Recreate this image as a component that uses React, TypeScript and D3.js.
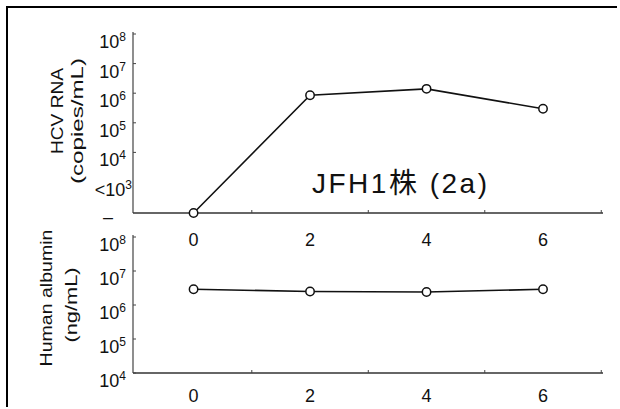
import React, { useEffect, useRef } from 'react';
import * as d3 from 'd3';

// days after infection
const days = [0, 2, 4, 6];
// HCV RNA copies/mL, null = below detection limit
const hcvRna = [null, 8.5e5, 1.4e6, 3.0e5];
// human albumin ng/mL
const albumin = [2.9e6, 2.5e6, 2.4e6, 2.9e6];

const xTickLabels = [0, 2, 4, 6];
const xMinorTicks = [1, 3, 5, 7];
const hcvExponents = [4, 5, 6, 7, 8];
const albuminExponents = [4, 5, 6, 7, 8];
const strainLabel = 'JFH1株 (2a)';

const FONT = '"Liberation Sans", Arial, "Noto Sans CJK JP", sans-serif';

const App = () => {
  const svgRef = useRef<SVGSVGElement>(null);

  useEffect(() => {
    if (!svgRef.current) return;
    const svg = d3.select(svgRef.current);
    svg.selectAll('*').remove();

    const x = d3.scaleLinear().domain([-1.04, 7.03]).range([133, 603]);

    // frame (left + top edges survive in the scan)
    svg.append('line').attr('x1', 7).attr('x2', 7).attr('y1', 6).attr('y2', 407)
      .attr('stroke', '#000').attr('stroke-width', 2);
    svg.append('line').attr('x1', 6).attr('x2', 617).attr('y1', 7).attr('y2', 7)
      .attr('stroke', '#000').attr('stroke-width', 2);

    // draws one panel: axes, ticks, labels
    const drawPanel = (
      y: d3.ScaleLogarithmic<number, number>,
      exps: number[],
      baseY: number,
      xLabelY: number
    ) => {
      const g = svg.append('g');
      const topY = y(1e8);

      g.append('line').attr('x1', x(-1.04)).attr('x2', x(-1.04))
        .attr('y1', topY - 2).attr('y2', baseY)
        .attr('stroke', '#444').attr('stroke-width', 1.2);
      g.append('line').attr('x1', x(-1.04)).attr('x2', x(7.03))
        .attr('y1', baseY).attr('y2', baseY)
        .attr('stroke', '#333').attr('stroke-width', 1.4);

      // y ticks point inward
      exps.forEach(e => {
        g.append('line').attr('x1', x(-1.04)).attr('x2', x(-1.04) + 3)
          .attr('y1', y(Math.pow(10, e))).attr('y2', y(Math.pow(10, e)))
          .attr('stroke', '#444').attr('stroke-width', 1);
        const t = g.append('text')
          .attr('x', 126).attr('y', y(Math.pow(10, e)) + 14)
          .attr('text-anchor', 'end')
          .attr('font-family', FONT).attr('font-size', 18).attr('fill', '#111');
        t.append('tspan').text('10');
        t.append('tspan').attr('font-size', 12).attr('dy', -7).text(String(e));
      });

      // x minor ticks point up
      xMinorTicks.forEach(v => {
        g.append('line').attr('x1', x(v)).attr('x2', x(v))
          .attr('y1', baseY).attr('y2', baseY - 3)
          .attr('stroke', '#444').attr('stroke-width', 1);
      });

      xTickLabels.forEach(v => {
        g.append('text').attr('x', x(v)).attr('y', xLabelY)
          .attr('text-anchor', 'middle')
          .attr('font-family', FONT).attr('font-size', 18).attr('fill', '#111')
          .text(String(v));
      });
      return g;
    };

    const drawSeries = (pts: [number, number][]) => {
      const line = d3.line<[number, number]>().x(d => d[0]).y(d => d[1]);
      svg.append('path').attr('d', line(pts))
        .attr('fill', 'none').attr('stroke', '#111').attr('stroke-width', 1.6);
      pts.forEach(p => {
        svg.append('circle').attr('cx', p[0]).attr('cy', p[1]).attr('r', 4.2)
          .attr('fill', '#fff').attr('stroke', '#111').attr('stroke-width', 1.5);
      });
    };

    // ---- top panel: HCV RNA
    const yTop = d3.scaleLog().domain([1e3, 1e8]).range([182, 34]);
    const topBase = 213;
    drawPanel(yTop, hcvExponents.filter(e => e >= 4), topBase, 246);
    // <10^3 label and undetectable dash
    const lt = svg.append('text').attr('x', 132).attr('y', yTop(1e3) + 14)
      .attr('text-anchor', 'end').attr('font-family', FONT).attr('font-size', 18)
      .attr('fill', '#111');
    lt.append('tspan').text('<10');
    lt.append('tspan').attr('font-size', 12).attr('dy', -7).text('3');
    svg.append('text').attr('x', 113).attr('y', topBase + 10)
      .attr('text-anchor', 'end').attr('font-family', FONT).attr('font-size', 18)
      .attr('fill', '#111').text('–');

    drawSeries(days.map((d, i) => [x(d), hcvRna[i] == null ? topBase : yTop(hcvRna[i] as number)]));

    svg.append('text').attr('x', 312).attr('y', 193)
      .attr('font-family', FONT).attr('font-size', 28).attr('fill', '#111')
      .attr('textLength', 175).attr('lengthAdjust', 'spacing')
      .text(strainLabel);

    // ---- bottom panel: human albumin
    const yBot = d3.scaleLog().domain([1e4, 1e8]).range([373, 237]);
    drawPanel(yBot, albuminExponents, 373, 402);
    drawSeries(days.map((d, i) => [x(d), yBot(albumin[i])]));

    // rotated axis titles
    const vTitle = (txt: string, bx: number, cy: number, len: number) => {
      svg.append('text')
        .attr('transform', `translate(${bx},${cy}) rotate(-90)`)
        .attr('text-anchor', 'middle')
        .attr('font-family', FONT).attr('font-size', 17).attr('fill', '#111')
        .attr('textLength', len).attr('lengthAdjust', 'spacingAndGlyphs')
        .text(txt);
    };
    vTitle('HCV RNA', 63, 111, 86);
    vTitle('(copies/mL)', 83, 121, 126);
    vTitle('Human albumin', 52, 298, 137);
    vTitle('(ng/mL)', 77, 305, 75);
  }, []);

  return (
    <svg
      ref={svgRef}
      width={620}
      height={409}
      style={{ position: 'absolute', left: 0, top: 0, background: '#fff' }}
    />
  );
};

export default App;
